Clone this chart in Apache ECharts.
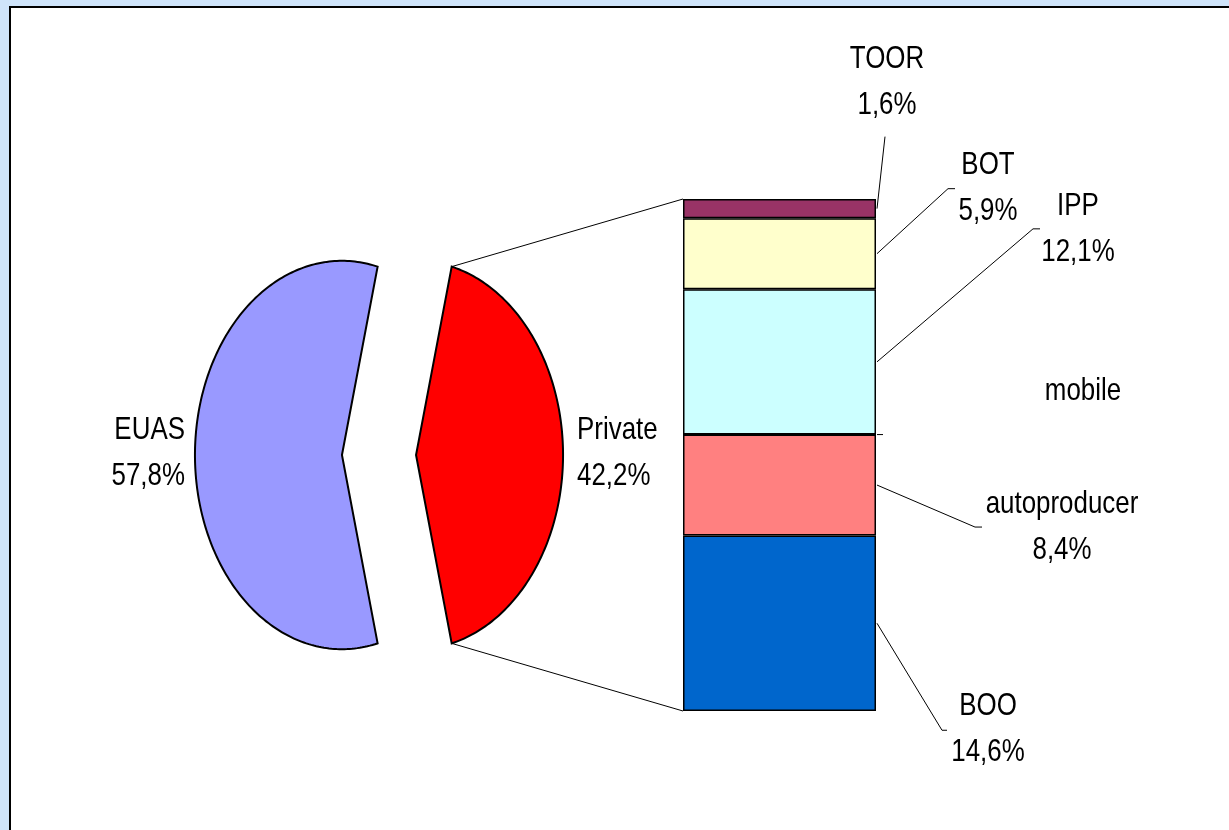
<!DOCTYPE html>
<html>
<head>
<meta charset="utf-8">
<script src="https://cdn.jsdelivr.net/npm/echarts@6/dist/echarts.min.js"></script>
<style>
  html, body { margin: 0; padding: 0; background: #fff; }
  #chart { width: 1229px; height: 830px; }
</style>
</head>
<body>
<div id="chart"></div>
<script>
// main pie
const mainNames = ['EUAS', 'Private']
const mainValues = [57.8, 42.2]
const mainColors = ['#9999ff', '#ff0000']

// breakdown of "Private", bottom to top
const subNames = ['BOO', 'autoproducer', 'mobile', 'IPP', 'BOT', 'TOOR']
const subValues = [14.6, 8.4, 0, 12.1, 5.9, 1.6]
const subColors = ['#0066cc', '#ff8080', '#ccffff', '#ccffff', '#ffffcc', '#993366']

// where each bar label sits, as offsets from the right edge of its segment
const subLabelPos = [
    { line: [[65, 107], [70, 107]], text: [111, 106] },
    { line: [[98, 42], [105, 42]], text: [185, 42] },
    { line: [[6, 0]], text: [206, -43] },
    { line: [[156, -133], [163, -133]], text: [201, -133] },
    { line: [[71, -65], [78, -65]], text: [111, -66] },
    { line: [[8, -72]], text: [10, -126] }
]

const FONT = 'Liberation Sans, Arial, sans-serif'
const FONT_SIZE = 32
const TEXT_SQUEEZE = 0.81
const explode = 0.252
const barGrid = { left: 683, top: 199, width: 193, height: 512 }

const fmt = v => v.toFixed(1).replace('.', ',') + '%'

// slice angles, rotated so the broken-out slice faces the bar
const mainTotal = mainValues.reduce((a, b) => a + b, 0)
let acc = 0
const rawSlices = mainValues.map(v => {
    const s = acc
    acc += v / mainTotal * 360
    return [s, acc]
})
const rot = -(rawSlices[1][0] + rawSlices[1][1]) / 2
const slices = rawSlices.map(([s, e]) => [s + rot, e + rot])

const subTotal = subValues.reduce((a, b) => a + b, 0)
let cum = 0
const subMids = subValues.map(v => {
    const m = cum + v / 2
    cum += v
    return m
})

const rad = d => d * Math.PI / 180

const label = (text, x, y, align) => ({
    type: 'text',
    x,
    y,
    scaleX: TEXT_SQUEEZE,
    style: {
        text,
        x: 0,
        y: 0,
        align,
        verticalAlign: 'middle',
        fontFamily: FONT,
        fontSize: FONT_SIZE,
        lineHeight: 46,
        fill: '#000'
    }
})

const renderSlice = (params, api) => {
    const s = api.value(0)
    const e = api.value(1)
    const mid = rad((s + e) / 2)
    const ox = explode * Math.cos(mid)
    const oy = explode * Math.sin(mid)
    const pts = [api.coord([ox, oy])]
    for (let a = s; a < e; a += 1) {
        pts.push(api.coord([ox + Math.cos(rad(a)), oy + Math.sin(rad(a))]))
    }
    pts.push(api.coord([ox + Math.cos(rad(e)), oy + Math.sin(rad(e))]))
    const i = params.dataIndex
    const edge = api.coord([ox + Math.cos(mid), oy + Math.sin(mid)])
    const right = Math.cos(mid) >= 0
    return {
        type: 'group',
        children: [
            {
                type: 'polygon',
                shape: { points: pts },
                style: { fill: mainColors[i], stroke: '#000', lineWidth: 2, lineJoin: 'miter' }
            },
            label(
                mainNames[i] + '\n' + fmt(mainValues[i]),
                edge[0] + (right ? 14 : -10),
                edge[1] - 2,
                right ? 'left' : 'right'
            )
        ]
    }
}

const renderLeader = (params, api) => {
    const i = params.dataIndex
    const band = api.size([1, 0])[0]
    const p = api.coord([0, api.value(1)])
    const x0 = p[0] + band / 2 + 1
    const y0 = p[1]
    const pos = subLabelPos[i]
    const pts = [[x0, y0]].concat(pos.line.map(([dx, dy]) => [x0 + dx, y0 + dy]))
    const v = subValues[i]
    return {
        type: 'group',
        children: [
            {
                type: 'polyline',
                shape: { points: pts },
                style: { stroke: '#000', lineWidth: 1, fill: null }
            },
            label(
                v > 0 ? subNames[i] + '\n' + fmt(v) : subNames[i],
                x0 + pos.text[0],
                y0 + pos.text[1],
                'center'
            )
        ]
    }
}

const chart = echarts.init(document.getElementById('chart'), null, { renderer: 'canvas' })

const options = {
    animation: false,
    backgroundColor: '#cfe4fa',
    graphic: [
        {
            id: 'frame',
            type: 'rect',
            z: -10,
            silent: true,
            shape: { x: 10, y: 7, width: 1400, height: 1000 },
            style: { fill: '#fff', stroke: '#000', lineWidth: 2 }
        }
    ],
    grid: [
        { left: 85, top: 222, width: 588, height: 466 },
        barGrid
    ],
    xAxis: [
        { type: 'value', gridIndex: 0, min: -2, max: 2, show: false },
        { type: 'category', gridIndex: 1, data: ['Private'], show: false }
    ],
    yAxis: [
        { type: 'value', gridIndex: 0, min: -1.2, max: 1.2, show: false },
        { type: 'value', gridIndex: 1, min: 0, max: subTotal, show: false }
    ],
    series: [
        {
            type: 'custom',
            name: 'main',
            xAxisIndex: 0,
            yAxisIndex: 0,
            renderItem: renderSlice,
            encode: { x: -1, y: -1 },
            data: slices.map((s, i) => [s[0], s[1], mainValues[i]]),
            z: 3
        },
        ...subValues.map((v, i) => ({
            type: 'bar',
            name: subNames[i],
            xAxisIndex: 1,
            yAxisIndex: 1,
            stack: 'private',
            barWidth: '100%',
            data: [v],
            itemStyle: { color: subColors[i], borderColor: '#000', borderWidth: 1.5 }
        })),
        {
            type: 'custom',
            name: 'labels',
            xAxisIndex: 1,
            yAxisIndex: 1,
            renderItem: renderLeader,
            encode: { x: 0, y: 1 },
            data: subMids.map(m => [0, m]),
            z: 4
        }
    ]
}

chart.setOption(options)

// connector lines from the broken-out slice to the bar ends
const [ps, pe] = slices[1]
const pm = rad((ps + pe) / 2)
const ox = explode * Math.cos(pm)
const oy = explode * Math.sin(pm)
const sliceTop = chart.convertToPixel({ xAxisIndex: 0, yAxisIndex: 0 }, [ox + Math.cos(rad(pe)), oy + Math.sin(rad(pe))])
const sliceBot = chart.convertToPixel({ xAxisIndex: 0, yAxisIndex: 0 }, [ox + Math.cos(rad(ps)), oy + Math.sin(rad(ps))])
const barTop = chart.convertToPixel({ xAxisIndex: 1, yAxisIndex: 1 }, [0, subTotal])
const barBot = chart.convertToPixel({ xAxisIndex: 1, yAxisIndex: 1 }, [0, 0])
const half = barGrid.width / 2

chart.setOption({
    graphic: [
        {
            id: 'connTop',
            type: 'line',
            z: 1,
            silent: true,
            shape: { x1: sliceTop[0], y1: sliceTop[1], x2: barTop[0] - half, y2: barTop[1] },
            style: { stroke: '#000', lineWidth: 1 }
        },
        {
            id: 'connBot',
            type: 'line',
            z: 1,
            silent: true,
            shape: { x1: sliceBot[0], y1: sliceBot[1], x2: barBot[0] - half, y2: barBot[1] },
            style: { stroke: '#000', lineWidth: 1 }
        }
    ]
})
</script>
</body>
</html>
